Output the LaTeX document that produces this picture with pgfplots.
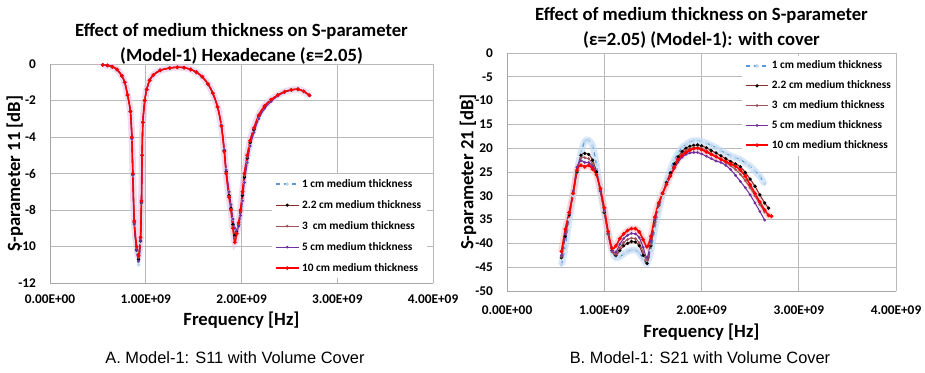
\documentclass[border=0pt]{standalone}
\usepackage{pgfplots}
\pgfplotsset{compat=1.18}
\usepackage{pgfplotstable}
\usepackage{fontspec}
\setmainfont{Carlito}
\newfontfamily\capfont{Liberation Sans}

\definecolor{cA}{HTML}{5B9BD5}
\definecolor{cAl}{HTML}{BDD7EE}
\definecolor{cB}{HTML}{8B2C2C}
\definecolor{cC}{HTML}{A0525A}
\definecolor{cD}{HTML}{7030A0}
\definecolor{cE}{HTML}{FF0000}
\definecolor{haloP}{HTML}{E3C4E6}
\definecolor{haloB}{HTML}{BFD9F5}
\definecolor{haloR}{HTML}{F7C4C4}

\pgfplotstableread{
x s1 s22 s3 s5 s10
0.55e9 -0.05 -0.05 -0.05 -0.05 -0.05
0.60e9 -0.08 -0.08 -0.08 -0.08 -0.08
0.65e9 -0.15 -0.15 -0.15 -0.15 -0.15
0.70e9 -0.30 -0.30 -0.30 -0.30 -0.30
0.75e9 -0.65 -0.65 -0.65 -0.65 -0.65
0.78e9 -1.00 -1.00 -1.00 -1.00 -1.00
0.81e9 -1.70 -1.70 -1.70 -1.70 -1.70
0.84e9 -2.60 -2.60 -2.60 -2.60 -2.60
0.855e9 -4.10 -4.05 -4.05 -4.10 -4.00
0.865e9 -6.10 -6.05 -6.05 -6.10 -6.00
0.88e9 -8.80 -8.70 -8.70 -8.80 -8.60
0.905e9 -10.30 -10.20 -10.10 -10.20 -10.00
0.925e9 -11.00 -10.70 -10.60 -10.80 -10.50
0.945e9 -9.80 -9.70 -9.60 -9.70 -9.50
0.955e9 -7.60 -7.60 -7.50 -7.60 -7.50
0.962e9 -5.00 -5.00 -5.00 -5.00 -5.00
0.97e9 -3.20 -3.20 -3.20 -3.20 -3.20
0.99e9 -2.00 -2.00 -2.00 -2.00 -2.00
1.01e9 -1.40 -1.40 -1.40 -1.40 -1.40
1.04e9 -0.90 -0.90 -0.90 -0.90 -0.90
1.08e9 -0.60 -0.60 -0.60 -0.60 -0.60
1.15e9 -0.35 -0.35 -0.35 -0.35 -0.35
1.25e9 -0.22 -0.22 -0.22 -0.22 -0.22
1.33e9 -0.18 -0.18 -0.18 -0.18 -0.18
1.40e9 -0.20 -0.20 -0.20 -0.20 -0.20
1.47e9 -0.30 -0.30 -0.30 -0.30 -0.30
1.53e9 -0.45 -0.45 -0.45 -0.45 -0.45
1.59e9 -0.70 -0.70 -0.70 -0.70 -0.70
1.65e9 -1.10 -1.10 -1.10 -1.10 -1.10
1.70e9 -1.60 -1.60 -1.60 -1.60 -1.60
1.75e9 -2.35 -2.35 -2.35 -2.35 -2.35
1.79e9 -3.35 -3.40 -3.40 -3.35 -3.40
1.82e9 -4.70 -4.75 -4.80 -4.70 -4.80
1.84e9 -5.80 -5.90 -5.95 -5.80 -6.00
1.87e9 -7.00 -7.20 -7.25 -7.00 -7.30
1.89e9 -7.70 -7.90 -7.95 -7.70 -8.00
1.91e9 -8.50 -8.80 -8.90 -8.50 -9.00
1.93e9 -9.00 -9.40 -9.50 -9.00 -9.77
1.95e9 -9.10 -9.20 -9.25 -9.10 -9.30
1.97e9 -8.90 -8.80 -8.80 -8.90 -8.70
1.99e9 -8.30 -8.10 -8.10 -8.30 -8.00
2.01e9 -7.50 -7.20 -7.10 -7.50 -7.00
2.03e9 -6.50 -6.20 -6.10 -6.50 -6.00
2.06e9 -5.40 -5.15 -5.10 -5.40 -5.00
2.09e9 -4.50 -4.30 -4.25 -4.50 -4.20
2.13e9 -3.70 -3.60 -3.55 -3.75 -3.50
2.18e9 -3.00 -2.85 -2.85 -3.00 -2.80
2.24e9 -2.40 -2.35 -2.32 -2.45 -2.30
2.31e9 -2.00 -1.97 -1.96 -2.05 -1.95
2.38e9 -1.72 -1.70 -1.70 -1.75 -1.70
2.45e9 -1.53 -1.52 -1.52 -1.55 -1.52
2.52e9 -1.42 -1.42 -1.42 -1.43 -1.42
2.59e9 -1.38 -1.38 -1.38 -1.38 -1.38
2.65e9 -1.50 -1.50 -1.50 -1.50 -1.50
2.71e9 -1.72 -1.72 -1.72 -1.72 -1.72
}\tabSA

\pgfplotstableread{
x s1 s22 s3 s5 s10
0.56e9 -44.5 -43.0 -42.8 -42.5 -41.7
0.60e9 -40.5 -38.5 -38.0 -38.0 -37.0
0.64e9 -35.0 -34.0 -33.8 -33.5 -33.5
0.68e9 -30.0 -29.5 -29.5 -29.0 -29.5
0.72e9 -25.0 -25.0 -24.8 -24.0 -24.6
0.76e9 -21.0 -21.5 -22.0 -22.6 -23.6
0.80e9 -18.6 -21.1 -22.0 -23.0 -23.9
0.84e9 -18.3 -21.3 -22.2 -23.0 -23.6
0.88e9 -19.5 -22.5 -23.3 -23.8 -24.4
0.92e9 -23.5 -25.0 -25.5 -25.5 -25.6
0.96e9 -29.0 -29.0 -29.0 -29.0 -28.5
1.00e9 -33.5 -33.5 -33.3 -33.0 -32.5
1.04e9 -38.0 -38.0 -38.0 -37.8 -37.5
1.08e9 -41.5 -41.5 -41.8 -41.5 -41.0
1.12e9 -43.0 -42.5 -42.3 -41.8 -40.5
1.16e9 -42.8 -41.5 -41.0 -40.2 -39.0
1.20e9 -42.2 -40.5 -39.8 -39.0 -38.0
1.24e9 -41.7 -40.0 -39.2 -38.3 -37.3
1.28e9 -41.4 -39.6 -38.9 -37.9 -36.9
1.32e9 -41.4 -39.7 -39.0 -38.0 -36.9
1.36e9 -42.0 -40.5 -39.9 -38.8 -37.6
1.40e9 -43.2 -42.5 -41.8 -40.8 -39.2
1.44e9 -44.2 -44.2 -43.5 -43.0 -40.7
1.48e9 -41.5 -40.5 -40.2 -39.5 -38.5
1.52e9 -37.0 -35.5 -35.5 -35.0 -34.5
1.56e9 -33.0 -32.0 -32.0 -31.8 -31.5
1.60e9 -29.8 -29.5 -29.6 -29.5 -29.5
1.64e9 -27.0 -27.2 -27.5 -27.6 -27.6
1.68e9 -24.5 -25.2 -25.6 -25.9 -25.8
1.72e9 -22.5 -23.3 -23.8 -24.3 -24.0
1.76e9 -21.0 -21.8 -22.3 -22.9 -22.4
1.80e9 -19.9 -20.7 -21.2 -21.9 -21.5
1.84e9 -19.2 -20.0 -20.5 -21.3 -20.9
1.88e9 -18.7 -19.6 -20.1 -21.0 -20.4
1.92e9 -18.4 -19.4 -19.9 -20.9 -20.1
1.96e9 -18.4 -19.3 -19.8 -20.9 -20.0
2.00e9 -18.6 -19.5 -20.0 -21.2 -20.3
2.05e9 -18.9 -19.9 -20.5 -21.7 -20.8
2.10e9 -19.4 -20.5 -21.1 -22.2 -21.3
2.15e9 -19.9 -21.0 -21.7 -22.7 -21.8
2.20e9 -20.5 -21.6 -22.3 -23.0 -22.3
2.25e9 -21.1 -22.2 -23.0 -23.6 -22.8
2.30e9 -21.6 -22.8 -23.7 -24.5 -23.3
2.35e9 -22.0 -23.3 -24.5 -25.7 -23.8
2.40e9 -22.4 -23.9 -25.5 -27.0 -24.6
2.45e9 -23.1 -25.1 -26.8 -28.3 -25.9
2.50e9 -23.8 -26.5 -28.3 -29.8 -27.7
2.55e9 -24.8 -28.0 -30.0 -31.5 -29.5
2.60e9 -25.9 -29.8 -31.8 -33.3 -31.3
2.65e9 -27.5 -31.5 -33.4 -35.1 -33.0
2.69e9 nan -32.6 nan nan -34.1
2.72e9 nan nan nan nan -34.3
}\tabSB

\pgfplotsset{
  myax/.style={
    scale only axis,
    axis x line*=bottom, axis y line*=left,
    axis line style={draw=gray!70,-},
    grid=major, grid style={gray!55, line width=0.5pt},
    major tick length=0pt,
    xmin=0, xmax=4e9,
    xtick={0,1e9,2e9,3e9,4e9},
    xticklabels={0.00E+00,1.00E+09,2.00E+09,3.00E+09,4.00E+09},
    scaled x ticks=false, scaled y ticks=false,
    ticklabel style={font=\bfseries\fontsize{10}{12}\selectfont},
    yticklabel style={xshift=-7pt},
    title style={font=\bfseries\fontsize{14}{18.5}\selectfont, align=center},
    label style={font=\bfseries\fontsize{14}{16}\selectfont},
    xlabel={Frequency [Hz]},
    legend style={draw=none, fill=white, font=\bfseries\fontsize{8.5}{10}\selectfont,
      inner sep=2pt},
    legend cell align=left,
  },
  pA/.style={color=cA, dashed, line width=0.9pt, mark=*, mark size=0.9pt,
    mark options={solid, fill=white, draw=cAl}},
  pB/.style={color=cB, line width=0.8pt, mark=*, mark size=0.8pt,
    mark options={fill=black, draw=black}},
  pC/.style={color=cC, line width=0.8pt, mark=*, mark size=0.6pt},
  pD/.style={color=cD, line width=0.8pt, mark=*, mark size=0.6pt},
  pE/.style={color=cE, line width=1.2pt, mark=*, mark size=0.7pt},
}

\begin{document}
\begin{tikzpicture}
\path[use as bounding box] (0,0) rectangle (693.75pt,279pt);

\begin{axis}[myax,
  at={(37.5pt,66.75pt)}, anchor=south west,
  width=287.25pt, height=164.25pt,
  ymin=-12, ymax=0,
  ytick={-12,-10,-8,-6,-4,-2,0},
  yticklabels={-12,-10,-8,-6,-4,-2,0},
  xticklabel style={yshift=-5pt},
  title={Effect of medium thickness on S-parameter\\(Model-1) Hexadecane (ε=2.05)},
  title style={yshift=-9.5pt},
  ylabel={S-parameter 11 [dB]},
  ylabel style={at={(axis description cs:-0.092,0.5)}, anchor=center},
  legend style={at={(0.58,0.50)}, anchor=north west, row sep=4.3pt},
]
\addplot[forget plot, draw=haloP, line width=5pt, opacity=0.6, smooth] table[x=x,y=s10] {\tabSA};
\addplot[pA, smooth] table[x=x,y=s1] {\tabSA};
\addplot[pB, smooth] table[x=x,y=s22] {\tabSA};
\addplot[pC, smooth] table[x=x,y=s3] {\tabSA};
\addplot[pD, smooth] table[x=x,y=s5] {\tabSA};
\addplot[pE, smooth] table[x=x,y=s10] {\tabSA};
\legend{1 cm medium thickness, 2.2 cm medium thickness, 3~ cm medium thickness, 5 cm medium thickness, 10 cm medium thickness}
\end{axis}

\begin{axis}[myax,
  at={(380.25pt,60.75pt)}, anchor=south west,
  width=291.75pt, height=178.5pt,
  ymin=-50, ymax=0,
  ytick={-50,-45,-40,-35,-30,-25,-20,-15,-10,-5,0},
  yticklabels={-50,-45,-40,35,30,25,20,15,-10,-5,0},
  xticklabel style={yshift=-7.5pt},
  title={Effect of medium thickness on S-parameter\\(ε=2.05) (Model-1): with cover},
  title style={yshift=-6pt},
  ylabel={S-parameter 21 [dB]},
  ylabel style={at={(axis description cs:-0.100,0.5)}, anchor=center},
  legend style={at={(0.604,0.99)}, anchor=north west, row sep=3.4pt},
]
\addplot[forget plot, draw=haloB, line width=5pt, opacity=0.6, smooth] table[x=x,y=s1] {\tabSB};
\addplot[forget plot, draw=haloR, line width=5pt, opacity=0.6, smooth] table[x=x,y=s10] {\tabSB};
\addplot[pA, smooth] table[x=x,y=s1] {\tabSB};
\addplot[pB, smooth] table[x=x,y=s22] {\tabSB};
\addplot[pC, smooth] table[x=x,y=s3] {\tabSB};
\addplot[pD, smooth] table[x=x,y=s5] {\tabSB};
\addplot[pE, smooth] table[x=x,y=s10] {\tabSB};
\legend{1 cm medium thickness, 2.2 cm medium thickness, 3~ cm medium thickness, 5 cm medium thickness, 10 cm medium thickness}
\end{axis}

\node[font=\capfont\fontsize{12.3}{14}\selectfont] at (176.25pt,10.5pt) {A. Model-1: S11 with Volume Cover};
\node[font=\capfont\fontsize{12.3}{14}\selectfont] at (525pt,10.5pt) {B. Model-1: S21 with Volume Cover};
\end{tikzpicture}
\end{document}
